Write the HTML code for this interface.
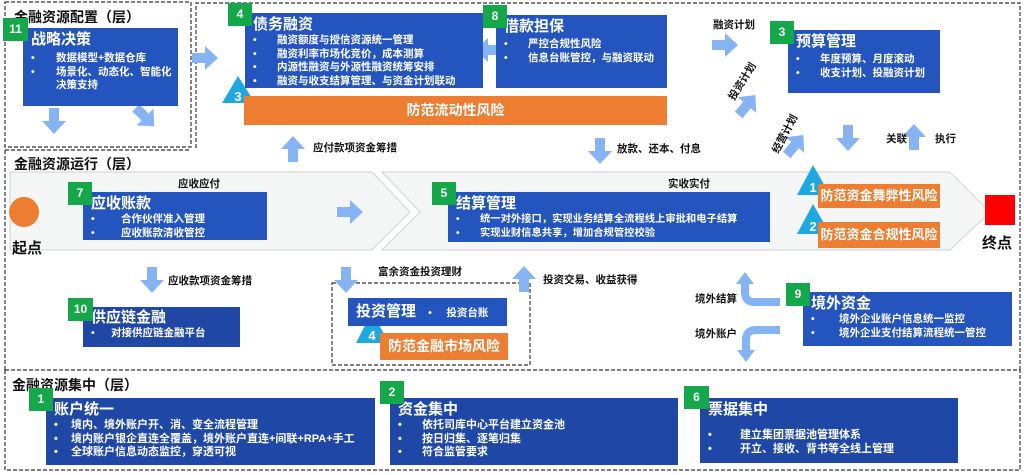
<!DOCTYPE html>
<html><head><meta charset="utf-8"><style>
*{margin:0;padding:0;box-sizing:border-box}
body{width:1024px;height:475px;background:#fff;position:relative;overflow:hidden;font-family:"Liberation Sans","Noto Sans CJK SC",sans-serif;font-weight:bold}
.a{position:absolute}
.box{position:absolute;background:#2454bd;color:#fff;overflow:hidden}
.dk{background:#1f47a6}
.t{font-size:15px;line-height:19px;padding:2px 0 0 8px}
.g{position:absolute;background:#15a84a;color:#fff;font-size:12px;text-align:center;width:24px;height:23px;line-height:23px}
.or{position:absolute;background:#ed7d31;color:#fff;font-size:14px;line-height:26px;text-align:center}
.lab{position:absolute;font-size:10.5px;color:#111;white-space:nowrap}
.ttl{position:absolute;font-size:14px;color:#111}
.ul{list-style:none;font-size:10.5px;line-height:13.5px}
.ul li{position:relative;padding-left:32px}
.ul li:before{content:"•";position:absolute;left:8px}
</style></head><body>
<svg class="a" style="left:0;top:0" width="1024" height="475">
<g fill="none" stroke="#333" stroke-width="1.2" stroke-dasharray="4,2">
<rect x="5" y="2" width="186" height="145"/>
<path d="M196 148 V3 H1020 V370"/>
<path d="M5 150 H191 M5 150 V370"/>
<rect x="332" y="283" width="198" height="82"/>
<rect x="5" y="370" width="1015" height="100"/>
</g>
<g fill="#f4f5f5" stroke="#d6d9d9" stroke-width="1.2">
<polygon points="10,172 372,172 410,212 372,250 10,250"/>
<polygon points="382,172 950,172 990,212 950,250 382,250 420,212"/>
</g>
<g fill="#86b4f3">
<g transform="translate(205,58)"><polygon points="-13,-5 0,-5 0,-12 13,0 0,12 0,5 -13,5"/></g>
<g transform="translate(54,121) rotate(90)"><polygon points="-13,-5 0,-5 0,-12 13,0 0,12 0,5 -13,5"/></g>
<g transform="translate(145,117) rotate(45)"><polygon points="-13,-5 0,-5 0,-12 13,0 0,12 0,5 -13,5"/></g>
<g transform="translate(488,50) rotate(180)"><polygon points="-13,-5 0,-5 0,-12 13,0 0,12 0,5 -13,5"/></g>
<g transform="translate(293,149) rotate(-90)"><polygon points="-13,-5 0,-5 0,-12 13,0 0,12 0,5 -13,5"/></g>
<g transform="translate(600,151) rotate(90)"><polygon points="-13,-5 0,-5 0,-12 13,0 0,12 0,5 -13,5"/></g>
<g transform="translate(725,45)"><polygon points="-13,-5 0,-5 0,-12 13,0 0,12 0,5 -13,5"/></g>
<g transform="translate(747,105) rotate(-50)"><polygon points="-13,-5 0,-5 0,-12 13,0 0,12 0,5 -13,5"/></g>
<g transform="translate(795,145) rotate(-50)"><polygon points="-13,-5 0,-5 0,-12 13,0 0,12 0,5 -13,5"/></g>
<g transform="translate(848,138) rotate(90)"><polygon points="-13,-5 0,-5 0,-12 13,0 0,12 0,5 -13,5"/></g>
<g transform="translate(914,137) rotate(-90)"><polygon points="-13,-5 0,-5 0,-12 13,0 0,12 0,5 -13,5"/></g>
<g transform="translate(350,212)"><polygon points="-13,-5 0,-5 0,-12 13,0 0,12 0,5 -13,5"/></g>
<g transform="translate(152,280) rotate(90)"><polygon points="-13,-5 0,-5 0,-12 13,0 0,12 0,5 -13,5"/></g>
<g transform="translate(346,280) rotate(90)"><polygon points="-13,-5 0,-5 0,-12 13,0 0,12 0,5 -13,5"/></g>
<g transform="translate(524,279) rotate(-90)"><polygon points="-13,-5 0,-5 0,-12 13,0 0,12 0,5 -13,5"/></g>
<polygon points="736,284 745,272 754,284"/>
<polygon points="737,350 746,362 755,350"/>
</g>
<g fill="none" stroke="#86b4f3" stroke-width="8">
<path d="M780 302 H754 Q745 302 745 292 V283"/>
<path d="M780 330 H756 Q746 330 746 340 V351"/>
</g>
<circle cx="24" cy="212" r="15" fill="#ed7d31"/>
<rect x="985" y="195" width="30" height="30" fill="#f00"/>
<g fill="#1fa8e0">
<polygon points="238,76 222,103 255,103"/>
<polygon points="813,165 797,195 830,195"/>
<polygon points="813,204 797,234 830,234"/>
<polygon points="372,312 356,343 389,343"/>
</g>
<g fill="#fff" font-size="13" font-weight="bold" font-family="Liberation Sans,sans-serif" text-anchor="middle">
<text x="238" y="101">3</text><text x="813" y="192">1</text><text x="813" y="231">2</text><text x="372" y="340">4</text>
</g>
<g font-size="10.5" font-weight="bold" fill="#111" font-family="Liberation Sans,Noto Sans CJK SC,sans-serif">
<text transform="translate(734,101) rotate(-58)">投资计划</text>
<text transform="translate(778,154) rotate(-62)">经营计划</text>
</g>
</svg>

<div class="ttl" style="left:14px;top:7px">金融资源配置（层）</div>
<div class="ttl" style="left:14px;top:154px">金融资源运行（层）</div>
<div class="ttl" style="left:12px;top:375px">金融资源集中（层）</div>

<div class="box" style="left:23px;top:28px;width:155px;height:78px"><div class="t">战略决策</div>
<ul class="ul" style="padding-top:3px;padding-right:6px"><li style="padding-left:33px">数据模型+数据仓库</li><li style="padding-left:33px">场景化、动态化、智能化决策支持</li></ul></div>
<div class="g" style="left:3px;top:18px;width:25px">11</div>

<div class="box" style="left:245px;top:13px;width:238px;height:75px"><div class="t">债务融资</div>
<ul class="ul"><li>融资额度与授信资源统一管理</li><li>融资利率市场化竞价，成本测算</li><li>内源性融资与外源性融资统筹安排</li><li>融资与收支结算管理、与资金计划联动</li></ul></div>
<div class="g" style="left:228px;top:3px">4</div>

<div class="box" style="left:496px;top:15px;width:171px;height:73px"><div class="t">借款担保</div>
<ul class="ul" style="padding-top:2px"><li>严控合规性风险</li><li>信息台账管控，与融资联动</li></ul></div>
<div class="g" style="left:483px;top:5px">8</div>
<div class="or" style="left:244px;top:96px;width:423px;height:29px;line-height:29px">防范流动性风险</div>

<div class="box" style="left:788px;top:30px;width:152px;height:63px"><div class="t">预算管理</div>
<ul class="ul" style="padding-top:2px"><li>年度预算、月度滚动</li><li>收支计划、投融资计划</li></ul></div>
<div class="g" style="left:770px;top:21px">3</div>

<div class="lab" style="left:713px;top:17px">融资计划</div>
<div class="lab" style="left:313px;top:140px">应付款项资金筹措</div>
<div class="lab" style="left:617px;top:141px">放款、还本、付息</div>
<div class="lab" style="left:886px;top:131px">关联</div>
<div class="lab" style="left:935px;top:131px">执行</div>
<div class="lab" style="left:178px;top:176px">应收应付</div>
<div class="lab" style="left:668px;top:176px">实收实付</div>

<div class="box" style="left:83px;top:192px;width:184px;height:48px"><div class="t">应收账款</div>
<ul class="ul"><li style="padding-left:38px">合作伙伴准入管理</li><li style="padding-left:38px">应收账款清收管控</li></ul></div>
<div class="g" style="left:68px;top:182px">7</div>

<div class="box" style="left:448px;top:192px;width:322px;height:50px"><div class="t">结算管理</div>
<ul class="ul" style="font-size:10.3px"><li>统一对外接口，实现业务结算全流程线上审批和电子结算</li><li>实现业财信息共享，增加合规管控校验</li></ul></div>
<div class="g" style="left:432px;top:182px">5</div>

<div class="or" style="left:818px;top:184px;width:122px;height:24px;line-height:24px;font-size:13px">防范资金舞弊性风险</div>
<div class="or" style="left:818px;top:222px;width:122px;height:26px;font-size:13px">防范资金合规性风险</div>
<div class="ttl" style="left:12px;top:237px;font-size:15px">起点</div>
<div class="ttl" style="left:982px;top:232px;font-size:15px">终点</div>

<div class="lab" style="left:168px;top:273px">应收款项资金筹措</div>
<div class="lab" style="left:378px;top:264px">富余资金投资理财</div>
<div class="lab" style="left:543px;top:272px">投资交易、收益获得</div>
<div class="lab" style="left:695px;top:291px">境外结算</div>
<div class="lab" style="left:695px;top:326px">境外账户</div>

<div class="box dk" style="left:83px;top:307px;width:157px;height:40px"><div class="t" style="padding-top:1px">供应链金融</div>
<ul class="ul"><li style="padding-left:28px">对接供应链金融平台</li></ul></div>
<div class="g" style="left:68px;top:298px;width:25px">10</div>

<div class="box" style="left:348px;top:298px;width:159px;height:28px"><div class="t" style="padding-top:4px">投资管理 <span style="font-size:10.5px;margin-left:8px">•&nbsp;&nbsp;&nbsp;&nbsp;&nbsp;投资台账</span></div></div>
<div class="or" style="left:380px;top:333px;width:128px;height:27px;line-height:27px">防范金融市场风险</div>

<div class="box" style="left:803px;top:292px;width:209px;height:54px"><div class="t">境外资金</div>
<ul class="ul"><li style="padding-left:36px">境外企业账户信息统一监控</li><li style="padding-left:36px">境外企业支付结算流程统一管控</li></ul></div>
<div class="g" style="left:786px;top:283px">9</div>

<div class="box dk" style="left:46px;top:398px;width:329px;height:67px"><div class="t">账户统一</div>
<ul class="ul" style="font-size:11px;padding-right:8px"><li style="padding-left:25px">境内、境外账户开、消、变全流程管理</li><li style="padding-left:25px">境内账户银企直连全覆盖，境外账户直连+间联+RPA+手工</li><li style="padding-left:25px">全球账户信息动态监控，穿透可视</li></ul></div>
<div class="g" style="left:29px;top:388px">1</div>

<div class="box dk" style="left:390px;top:398px;width:288px;height:67px"><div class="t">资金集中</div>
<ul class="ul" style="font-size:11px"><li>依托司库中心平台建立资金池</li><li>按日归集、逐笔归集</li><li>符合监管要求</li></ul></div>
<div class="g" style="left:380px;top:381px">2</div>

<div class="box dk" style="left:700px;top:398px;width:258px;height:65px"><div class="t">票据集中</div>
<ul class="ul" style="padding-top:10px;font-size:11px"><li style="padding-left:40px">建立集团票据池管理体系</li><li style="padding-left:40px">开立、接收、背书等全线上管理</li></ul></div>
<div class="g" style="left:684px;top:386px;width:25px">6</div>
</body></html>
